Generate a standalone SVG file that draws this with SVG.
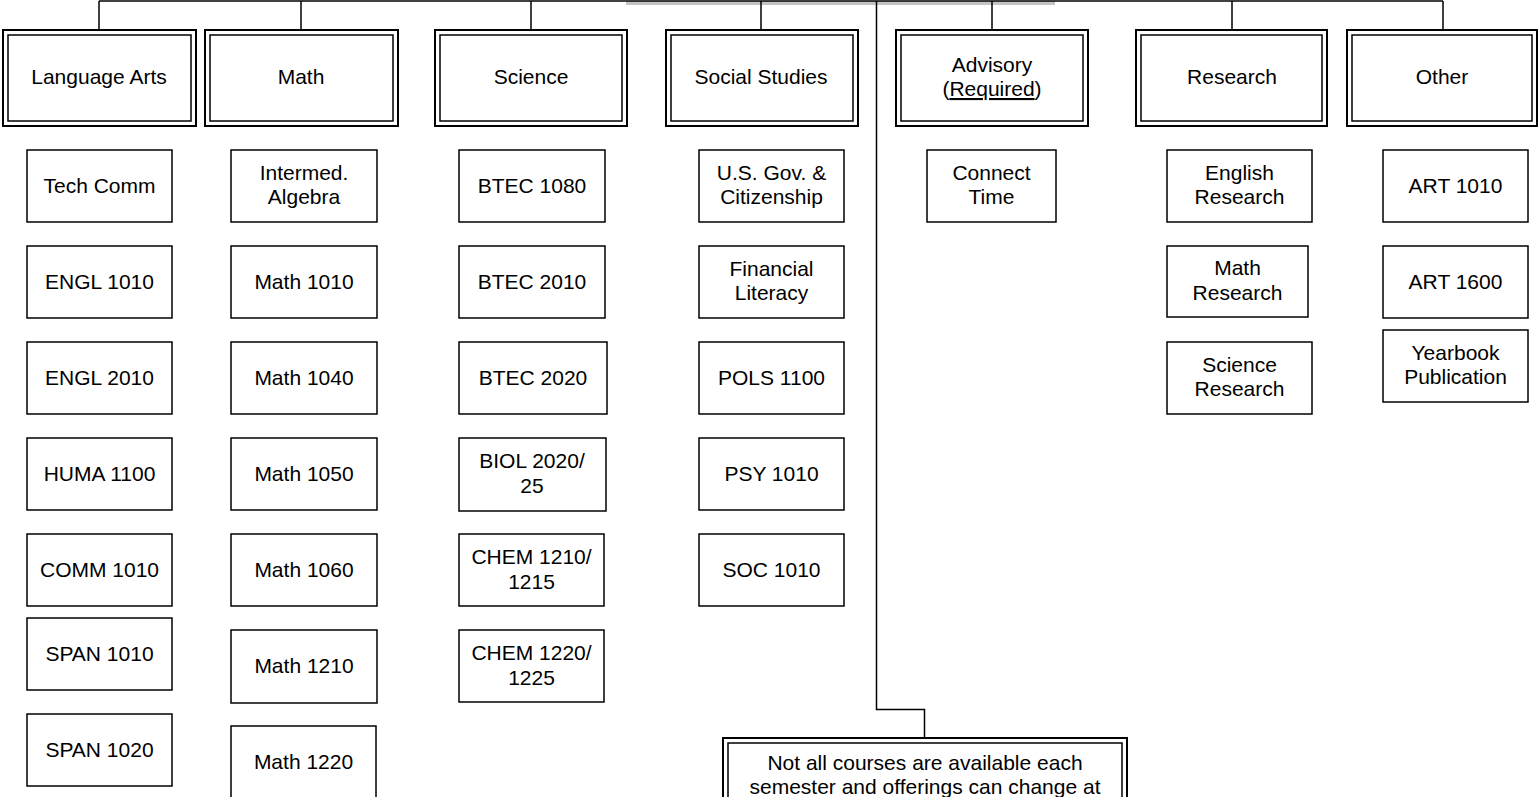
<svg xmlns="http://www.w3.org/2000/svg" width="1539" height="797" viewBox="0 0 1539 797">
<style>
text{font-family:"Liberation Sans",Arial,sans-serif;font-size:21px;fill:#000;text-anchor:middle}
.c{fill:#fff;stroke:#000;stroke-width:1.5}
.ho{fill:#fff;stroke:#000;stroke-width:2}
.hi{fill:none;stroke:#000;stroke-width:1.5}
.ln{fill:none;stroke:#000;stroke-width:1.5}
</style>
<rect width="1539" height="797" fill="#fff"/>
<rect x="626" y="1" width="429" height="4" fill="#c4c4c4"/>
<g id="connectors">
<line class="ln" x1="99" y1="1" x2="1443" y2="1" stroke-width="2"/>
<line class="ln" x1="99" y1="1" x2="99" y2="30"/>
<line class="ln" x1="301" y1="1" x2="301" y2="30"/>
<line class="ln" x1="531" y1="1" x2="531" y2="30"/>
<line class="ln" x1="761" y1="1" x2="761" y2="30"/>
<line class="ln" x1="992" y1="1" x2="992" y2="30"/>
<line class="ln" x1="1232" y1="1" x2="1232" y2="30"/>
<line class="ln" x1="1443" y1="1" x2="1443" y2="30"/>
<polyline class="ln" points="876.5,1 876.5,709.5 924.5,709.5 924.5,738"/>
</g>
<g id="h-language-arts"><rect class="ho" x="3" y="30" width="193" height="96"/><rect class="hi" x="8" y="35" width="183" height="86"/><text x="99" y="84">Language Arts</text></g>
<g id="h-math"><rect class="ho" x="205" y="30" width="193" height="96"/><rect class="hi" x="210" y="35" width="183" height="86"/><text x="301" y="84">Math</text></g>
<g id="h-science"><rect class="ho" x="435" y="30" width="192" height="96"/><rect class="hi" x="440" y="35" width="182" height="86"/><text x="531" y="84">Science</text></g>
<g id="h-social"><rect class="ho" x="666" y="30" width="192" height="96"/><rect class="hi" x="671" y="35" width="182" height="86"/><text x="761" y="84">Social Studies</text></g>
<g id="h-advisory"><rect class="ho" x="896" y="30" width="192" height="96"/><rect class="hi" x="901" y="35" width="182" height="86"/><text x="992" y="72">Advisory</text><text x="992" y="96">(<tspan text-decoration="underline">Required</tspan>)</text></g>
<g id="h-research"><rect class="ho" x="1136" y="30" width="191" height="96"/><rect class="hi" x="1141" y="35" width="181" height="86"/><text x="1232" y="84">Research</text></g>
<g id="h-other"><rect class="ho" x="1347" y="30" width="190" height="96"/><rect class="hi" x="1352" y="35" width="180" height="86"/><text x="1442" y="84">Other</text></g>

<g id="la-1"><rect class="c" x="27" y="150" width="145" height="72"/><text x="99.5" y="193">Tech Comm</text></g>
<g id="la-2"><rect class="c" x="27" y="246" width="145" height="72"/><text x="99.5" y="289">ENGL 1010</text></g>
<g id="la-3"><rect class="c" x="27" y="342" width="145" height="72"/><text x="99.5" y="385">ENGL 2010</text></g>
<g id="la-4"><rect class="c" x="27" y="438" width="145" height="72"/><text x="99.5" y="481">HUMA 1100</text></g>
<g id="la-5"><rect class="c" x="27" y="534" width="145" height="72"/><text x="99.5" y="577">COMM 1010</text></g>
<g id="la-6"><rect class="c" x="27" y="618" width="145" height="72"/><text x="99.5" y="661">SPAN 1010</text></g>
<g id="la-7"><rect class="c" x="27" y="714" width="145" height="72"/><text x="99.5" y="757">SPAN 1020</text></g>

<g id="m-1"><rect class="c" x="231" y="150" width="146" height="72"/><text x="304" y="180">Intermed.</text><text x="304" y="204">Algebra</text></g>
<g id="m-2"><rect class="c" x="231" y="246" width="146" height="72"/><text x="304" y="289">Math 1010</text></g>
<g id="m-3"><rect class="c" x="231" y="342" width="146" height="72"/><text x="304" y="385">Math 1040</text></g>
<g id="m-4"><rect class="c" x="231" y="438" width="146" height="72"/><text x="304" y="481">Math 1050</text></g>
<g id="m-5"><rect class="c" x="231" y="534" width="146" height="72"/><text x="304" y="577">Math 1060</text></g>
<g id="m-6"><rect class="c" x="231" y="630" width="146" height="73"/><text x="304" y="673">Math 1210</text></g>
<g id="m-7"><rect class="c" x="231" y="726" width="145" height="80"/><text x="303.5" y="769">Math 1220</text></g>

<g id="s-1"><rect class="c" x="459" y="150" width="146" height="72"/><text x="532" y="193">BTEC 1080</text></g>
<g id="s-2"><rect class="c" x="459" y="246" width="146" height="72"/><text x="532" y="289">BTEC 2010</text></g>
<g id="s-3"><rect class="c" x="459" y="342" width="148" height="72"/><text x="533" y="385">BTEC 2020</text></g>
<g id="s-4"><rect class="c" x="459" y="438" width="147" height="73"/><text x="532" y="468">BIOL 2020/</text><text x="532" y="493">25</text></g>
<g id="s-5"><rect class="c" x="459" y="534" width="145" height="72"/><text x="531.5" y="564">CHEM 1210/</text><text x="531.5" y="589">1215</text></g>
<g id="s-6"><rect class="c" x="459" y="630" width="145" height="72"/><text x="531.5" y="660">CHEM 1220/</text><text x="531.5" y="685">1225</text></g>

<g id="ss-1"><rect class="c" x="699" y="150" width="145" height="72"/><text x="771.5" y="180">U.S. Gov. &amp;</text><text x="771.5" y="204">Citizenship</text></g>
<g id="ss-2"><rect class="c" x="699" y="246" width="145" height="72"/><text x="771.5" y="276">Financial</text><text x="771.5" y="300">Literacy</text></g>
<g id="ss-3"><rect class="c" x="699" y="342" width="145" height="72"/><text x="771.5" y="385">POLS 1100</text></g>
<g id="ss-4"><rect class="c" x="699" y="438" width="145" height="72"/><text x="771.5" y="481">PSY 1010</text></g>
<g id="ss-5"><rect class="c" x="699" y="534" width="145" height="72"/><text x="771.5" y="577">SOC 1010</text></g>

<g id="adv-1"><rect class="c" x="927" y="150" width="129" height="72"/><text x="991.5" y="180">Connect</text><text x="991.5" y="204">Time</text></g>

<g id="r-1"><rect class="c" x="1167" y="150" width="145" height="72"/><text x="1239.5" y="180">English</text><text x="1239.5" y="204">Research</text></g>
<g id="r-2"><rect class="c" x="1167" y="246" width="141" height="71"/><text x="1237.5" y="275">Math</text><text x="1237.5" y="300">Research</text></g>
<g id="r-3"><rect class="c" x="1167" y="342" width="145" height="72"/><text x="1239.5" y="372">Science</text><text x="1239.5" y="396">Research</text></g>

<g id="o-1"><rect class="c" x="1383" y="150" width="145" height="72"/><text x="1455.5" y="193">ART 1010</text></g>
<g id="o-2"><rect class="c" x="1383" y="246" width="145" height="72"/><text x="1455.5" y="289">ART 1600</text></g>
<g id="o-3"><rect class="c" x="1383" y="330" width="145" height="72"/><text x="1455.5" y="360">Yearbook</text><text x="1455.5" y="384">Publication</text></g>

<g id="note"><rect class="ho" x="723" y="738" width="404" height="80"/><rect class="hi" x="728" y="743" width="394" height="70"/><text x="925" y="770">Not all courses are available each</text><text x="925" y="794">semester and offerings can change at</text></g>
</svg>
